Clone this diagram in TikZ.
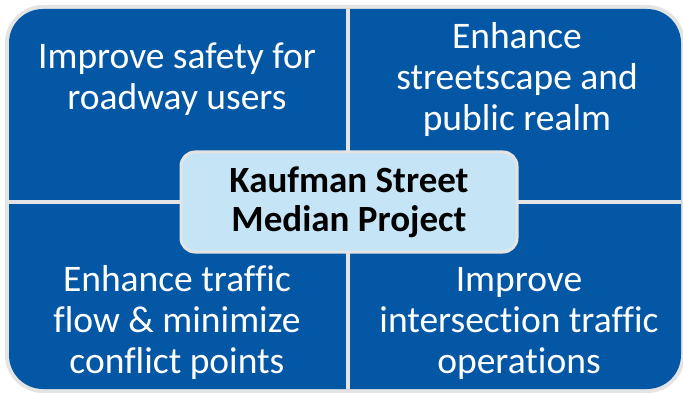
\documentclass[tikz,border=0pt]{standalone}
\usepackage{fontspec}
\setmainfont{Carlito}[Ligatures=NoCommon]
\definecolor{quadblue}{RGB}{4,87,165}
\definecolor{framegray}{RGB}{228,228,228}
\definecolor{hubfill}{RGB}{197,228,245}
\tikzset{
  quadtext/.style={text=white, font=\fontsize{37.5}{41}\selectfont, align=center, anchor=base, inner sep=0pt},
  hubbox/.style={draw=framegray, line width=3pt, fill=hubfill, rounded corners=14pt},
  hubtext/.style={text=black, font=\fontsize{37}{39}\selectfont\bfseries, align=center, anchor=base, inner sep=0pt},
}
\begin{document}
\begin{tikzpicture}[x=1pt,y=-1pt]
\useasboundingbox (0,0) rectangle (683,393);
% frame and quadrants
\fill[framegray, rounded corners=38pt] (5,5) rectangle (685,393);
\fill[quadblue, rounded corners=34pt] (9,9) rectangle (681,389);
\fill[framegray] (346,9) rectangle (350,389);
\fill[framegray] (9,200) rectangle (681,204);
% quadrant texts (anchor = baseline of last line)
\node[quadtext] (tl) at (177,110) {Improve safety for\\roadway users};
\node[quadtext] (tr) at (517,131) {Enhance\\streetscape and\\public realm};
\node[quadtext] (bl) at (177,373) {Enhance traffic\\flow \& minimize\\conflict points};
\node[quadtext] (br) at (519,373) {Improve\\intersection traffic\\operations};
% hub
\draw[hubbox] (181,152) rectangle (517,252);
\node[hubtext] (hub) at (349,231) {Kaufman Street\\Median Project};
\end{tikzpicture}
\end{document}
